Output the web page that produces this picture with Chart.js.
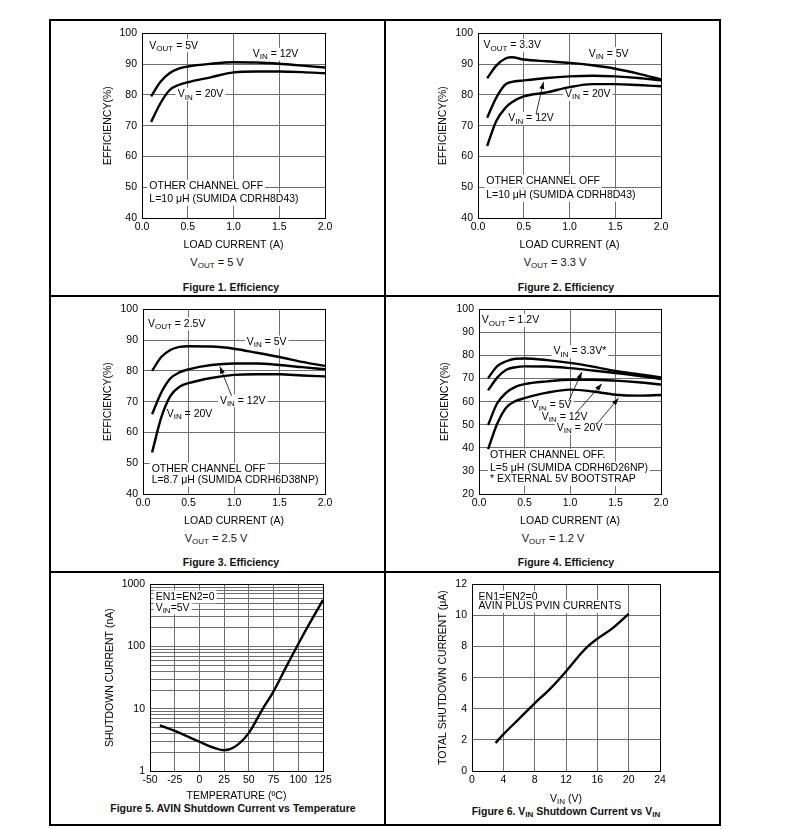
<!DOCTYPE html>
<html>
<head>
<meta charset="utf-8">
<script src="https://cdn.jsdelivr.net/npm/chart.js@4"></script>
<style>
  body { margin: 0; background: #fff; font-family: "Liberation Sans", Arial, sans-serif; }
  #page { position: relative; width: 793px; height: 829px; }
  canvas { position: absolute; }
  .rule { position: absolute; background: #000; }
  .cap { position: absolute; width: 300px; text-align: center; font-size: 11px; line-height: 14px; color: #111; }
  .fig { font-weight: bold; font-size: 10.5px; }
  sub { font-size: 8px; vertical-align: -2px; line-height: 0; }
</style>
</head>
<body>
<div id="page">
  <div class="rule" style="left:49px;top:19px;width:672px;height:2px"></div>
  <div class="rule" style="left:49px;top:295px;width:672px;height:2px"></div>
  <div class="rule" style="left:49px;top:571px;width:672px;height:2px"></div>
  <div class="rule" style="left:49px;top:824px;width:672px;height:2px"></div>
  <div class="rule" style="left:49px;top:19px;width:2px;height:807px"></div>
  <div class="rule" style="left:384px;top:19px;width:2px;height:807px"></div>
  <div class="rule" style="left:719px;top:19px;width:2px;height:807px"></div>

  <div class="cap" style="left:67px;top:255px">V<sub>OUT</sub> = 5 V</div>
  <div class="cap fig" style="left:81px;top:280px">Figure 1. Efficiency</div>
  <div class="cap" style="left:405px;top:255px">V<sub>OUT</sub> = 3.3 V</div>
  <div class="cap fig" style="left:416px;top:280px">Figure 2. Efficiency</div>
  <div class="cap" style="left:66px;top:531px">V<sub>OUT</sub> = 2.5 V</div>
  <div class="cap fig" style="left:81px;top:555px">Figure 3. Efficiency</div>
  <div class="cap" style="left:403px;top:531px">V<sub>OUT</sub> = 1.2 V</div>
  <div class="cap fig" style="left:416px;top:555px">Figure 4. Efficiency</div>
  <div class="cap fig" style="left:83px;top:801px">Figure 5. AVIN Shutdown Current vs Temperature</div>
  <div class="cap fig" style="left:416px;top:804px">Figure 6. V<sub>IN</sub> Shutdown Current vs V<sub>IN</sub></div>
</div>
<script>
const FONT = "'Liberation Sans', Arial, Helvetica, sans-serif";
const GRID = '#6e6e6e';
const NOTE_SIZE = 10.5;

// Figure 1, VOUT = 5 V
const loadA1 = [0.1, 0.2, 0.3, 0.4, 0.5, 0.75, 1.0, 1.25, 1.5, 1.75, 2.0];
const eff1Vin12 = [79.5, 84.2, 87.0, 88.5, 89.2, 90.1, 90.6, 90.5, 90.1, 89.5, 88.9];
const eff1Vin20 = [71.2, 77.2, 81.5, 83.2, 84.1, 85.7, 87.3, 87.6, 87.6, 87.4, 87.0];

// Figure 2, VOUT = 3.3 V
const loadA2 = [0.1, 0.2, 0.3, 0.37, 0.5, 0.75, 1.0, 1.25, 1.5, 1.75, 2.0];
const eff2Vin5 = [85.4, 89.5, 91.8, 92.2, 91.5, 90.9, 90.4, 89.6, 88.5, 86.9, 85.0];
const eff2Vin12 = [72.6, 79.1, 83.4, 84.2, 84.7, 85.5, 86.0, 86.2, 86.0, 85.5, 84.7];
const eff2Vin20 = [63.4, 71.5, 75.8, 77.6, 79.5, 80.8, 82.5, 83.5, 83.5, 83.2, 82.8];

// Figure 3, VOUT = 2.5 V
const loadA3 = [0.1, 0.2, 0.3, 0.4, 0.5, 0.75, 1.0, 1.25, 1.5, 1.75, 2.0];
const eff3Vin5 = [80.0, 84.5, 86.8, 87.8, 88.0, 87.9, 87.2, 85.9, 84.5, 82.9, 81.6];
const eff3Vin12 = [65.9, 72.9, 77.5, 79.5, 80.5, 81.9, 82.4, 82.4, 81.9, 81.2, 80.5];
const eff3Vin20 = [53.5, 64.8, 71.8, 74.8, 76.0, 77.7, 78.7, 78.9, 78.9, 78.5, 78.2];

// Figure 4, VOUT = 1.2 V
const loadA4 = [0.1, 0.2, 0.3, 0.4, 0.5, 0.75, 1.0, 1.25, 1.5, 1.75, 2.0];
const eff4Vin33 = [70.2, 75.4, 77.5, 78.6, 78.7, 78.0, 76.8, 75.2, 73.3, 71.9, 70.5];
const eff4Vin5 = [64.9, 70.4, 73.8, 74.9, 75.3, 75.2, 74.5, 73.5, 72.4, 71.2, 69.8];
const eff4Vin12 = [49.9, 59.3, 63.9, 66.4, 67.6, 68.8, 69.5, 69.5, 69.1, 68.4, 67.4];
const eff4Vin20 = [39.4, 50.4, 57.5, 60.2, 61.5, 63.9, 65.2, 64.4, 63.0, 62.6, 62.9];

// Figure 5, AVIN shutdown current vs temperature
const tempC = [-40, -25, 0, 15, 25, 35, 50, 64, 75, 88, 100, 113, 125];
const shutdownNA = [5.4, 4.4, 2.95, 2.35, 2.15, 2.4, 4.1, 10, 19, 48, 110, 260, 560];
const logDecades = [1, 10, 100, 1000];

// Figure 6, total shutdown current vs VIN
const vinV = [3, 4, 6, 8, 10, 12, 14, 15, 16, 18, 20];
const totalUA = [1.8, 2.35, 3.35, 4.35, 5.3, 6.4, 7.6, 8.1, 8.5, 9.2, 10.1];

const lineStyle = { borderColor: '#000', borderWidth: 2.4, pointRadius: 0, cubicInterpolationMode: 'monotone', fill: false };
function series(xs, ys) { return xs.map((x, i) => ({ x: x, y: ys[i] })); }

function parts(text) {
  const out = [];
  text.split(/(_\{[^}]*\})/).forEach(p => {
    if (!p) return;
    if (p.startsWith('_{')) out.push({ t: p.slice(2, -1), sub: true });
    else out.push({ t: p, sub: false });
  });
  return out;
}

function richWidth(ctx, segs, size) {
  let w = 0;
  segs.forEach(g => {
    ctx.font = (g.sub ? 8 : size) + 'px ' + FONT;
    g.w = ctx.measureText(g.t).width;
    w += g.w;
  });
  return w;
}

function drawRich(ctx, text, x, y, bg, size) {
  size = size || NOTE_SIZE;
  const segs = parts(text);
  const w = richWidth(ctx, segs, size);
  if (bg) {
    ctx.fillStyle = '#fff';
    ctx.fillRect(x - 2, y - 6.5, w + 4, 13);
  }
  ctx.fillStyle = '#000';
  ctx.textBaseline = 'middle';
  ctx.textAlign = 'left';
  segs.forEach(g => {
    ctx.font = (g.sub ? 8 : size) + 'px ' + FONT;
    ctx.fillText(g.t, x, g.sub ? y + 3 : y);
    x += g.w;
  });
}

// labels, arrows and the plot frame
const notesPlugin = {
  id: 'notes',
  beforeDatasetsDraw(chart, args, o) {
    const ctx = chart.ctx, xs = chart.scales.x, ys = chart.scales.y, ca = chart.chartArea;
    ctx.save();
    (o.labels || []).forEach(n => {
      drawRich(ctx, n.text, xs.getPixelForValue(n.x), ys.getPixelForValue(n.y), n.bg !== false);
    });
    (o.arrows || []).forEach(a => {
      const x0 = xs.getPixelForValue(a[0]), y0 = ys.getPixelForValue(a[1]);
      const x1 = xs.getPixelForValue(a[2]), y1 = ys.getPixelForValue(a[3]);
      const ang = Math.atan2(y1 - y0, x1 - x0);
      ctx.strokeStyle = '#000';
      ctx.lineWidth = 0.8;
      ctx.beginPath(); ctx.moveTo(x0, y0); ctx.lineTo(x1, y1); ctx.stroke();
      ctx.fillStyle = '#000';
      ctx.beginPath();
      ctx.moveTo(x1, y1);
      ctx.lineTo(x1 - 7 * Math.cos(ang) + 2.5 * Math.sin(ang), y1 - 7 * Math.sin(ang) - 2.5 * Math.cos(ang));
      ctx.lineTo(x1 - 7 * Math.cos(ang) - 2.5 * Math.sin(ang), y1 - 7 * Math.sin(ang) + 2.5 * Math.cos(ang));
      ctx.closePath(); ctx.fill();
    });
    if (o.xTitle) {
      const w = richWidth(ctx, parts(o.xTitle.text), 10.5);
      drawRich(ctx, o.xTitle.text, (ca.left + ca.right) / 2 - w / 2, ca.bottom + o.xTitle.dy, false, 10.5);
    }
    ctx.strokeStyle = '#000';
    ctx.lineWidth = 1;
    ctx.strokeRect(Math.round(ca.left) + 0.5, Math.round(ca.top) + 0.5, Math.round(ca.right) - Math.round(ca.left), Math.round(ca.bottom) - Math.round(ca.top));
    ctx.restore();
  }
};

function makeChart(cfg) {
  const b = cfg.box, p = cfg.plot, lh = 10.5 * 1.2;
  const cv = document.createElement('canvas');
  cv.width = b.W; cv.height = b.H;
  cv.style.left = b.L + 'px'; cv.style.top = b.T + 'px';
  document.getElementById('page').appendChild(cv);
  const tickFont = { family: FONT, size: 10.5 };

  const x = {
    type: 'linear', min: cfg.xMin, max: cfg.xMax,
    ticks: { stepSize: cfg.xStep, color: '#000', font: tickFont, padding: 3, maxRotation: 0, autoSkip: false, callback: cfg.xFmt },
    grid: { color: GRID, drawTicks: false },
    border: { color: '#000' },
    title: { display: !!cfg.xTitle, text: cfg.xTitle, color: '#000', font: tickFont, padding: { top: 0, bottom: b.T + b.H - cfg.xTitleY - lh / 2 } },
    afterFit: s => { s.height = b.T + b.H - p.b; }
  };
  const y = {
    type: cfg.yType || 'linear', min: cfg.yMin, max: cfg.yMax,
    ticks: { stepSize: cfg.yStep, color: '#000', font: tickFont, padding: 5, autoSkip: false, callback: cfg.yFmt },
    grid: { color: GRID, drawTicks: false },
    border: { color: '#000' },
    title: { display: true, text: cfg.yTitle, color: '#000', font: tickFont, padding: { top: cfg.yTitleX - b.L - lh / 2, bottom: 0 } },
    afterFit: s => { s.width = p.l - b.L; }
  };
  if (cfg.yTicks) y.afterBuildTicks = s => { s.ticks = cfg.yTicks.map(v => ({ value: v })); };

  return new Chart(cv, {
    type: 'line',
    data: { datasets: cfg.datasets.map(d => Object.assign({ data: d }, lineStyle)) },
    options: {
      responsive: false,
      animation: false,
      layout: { padding: { left: 0, top: p.t - b.T, right: b.L + b.W - p.r, bottom: 0 } },
      plugins: { legend: { display: false }, tooltip: { enabled: false }, notes: cfg.notes },
      scales: { x: x, y: y }
    },
    plugins: [notesPlugin]
  });
}

const fmt1 = v => v.toFixed(1);
const effCommon = { xMin: 0, xMax: 2, xStep: 0.5, xFmt: fmt1, yStep: 10, yMax: 100, xTitle: 'LOAD CURRENT (A)', yTitle: 'EFFICIENCY(%)' };

makeChart(Object.assign({}, effCommon, {
  box: { L: 52, T: 22, W: 330, H: 235 }, plot: { l: 142, t: 29, r: 325, b: 218 },
  yTitleX: 107.7, xTitleY: 245, yMin: 40,
  datasets: [series(loadA1, eff1Vin12), series(loadA1, eff1Vin20)],
  notes: {
    labels: [
      { text: 'V_{OUT} = 5V', x: 0.08, y: 96.0 },
      { text: 'V_{IN} = 12V', x: 1.21, y: 93.2 },
      { text: 'V_{IN} = 20V', x: 0.39, y: 80.1 },
      { text: 'OTHER CHANNEL OFF', x: 0.08, y: 50.3 },
      { text: 'L=10 μH (SUMIDA CDRH8D43)', x: 0.08, y: 46.1 }
    ]
  }
}));

makeChart(Object.assign({}, effCommon, {
  box: { L: 387, T: 22, W: 330, H: 235 }, plot: { l: 478, t: 29, r: 661, b: 218 },
  yTitleX: 442.7, xTitleY: 245, yMin: 40,
  datasets: [series(loadA2, eff2Vin5), series(loadA2, eff2Vin12), series(loadA2, eff2Vin20)],
  notes: {
    labels: [
      { text: 'V_{OUT} = 3.3V', x: 0.06, y: 96.1 },
      { text: 'V_{IN} = 5V', x: 1.21, y: 93.4 },
      { text: 'V_{IN} = 20V', x: 0.95, y: 80.2 },
      { text: 'V_{IN} = 12V', x: 0.33, y: 72.3 },
      { text: 'OTHER CHANNEL OFF', x: 0.09, y: 51.9 },
      { text: 'L=10 μH (SUMIDA CDRH8D43)', x: 0.09, y: 47.4 }
    ],
    arrows: [[0.635, 73.8, 0.715, 84.2]]
  }
}));

makeChart(Object.assign({}, effCommon, {
  box: { L: 52, T: 298, W: 330, H: 235 }, plot: { l: 143, t: 304, r: 325, b: 494 },
  yTitleX: 107.7, xTitleY: 521, yMin: 40,
  datasets: [series(loadA3, eff3Vin5), series(loadA3, eff3Vin12), series(loadA3, eff3Vin20)],
  notes: {
    labels: [
      { text: 'V_{OUT} = 2.5V', x: 0.055, y: 95.3 },
      { text: 'V_{IN} = 5V', x: 1.14, y: 89.4 },
      { text: 'V_{IN} = 12V', x: 0.845, y: 70.3 },
      { text: 'V_{IN} = 20V', x: 0.26, y: 66.1, bg: false },
      { text: 'OTHER CHANNEL OFF', x: 0.095, y: 48.0 },
      { text: 'L=8.7 μH (SUMIDA CDRH6D38NP)', x: 0.095, y: 44.5 }
    ],
    arrows: [[0.973, 71.9, 0.845, 81.4]]
  }
}));

makeChart(Object.assign({}, effCommon, {
  box: { L: 387, T: 298, W: 330, H: 235 }, plot: { l: 479, t: 304, r: 661, b: 494 },
  yTitleX: 445, xTitleY: 521, yMin: 20,
  datasets: [series(loadA4, eff4Vin33), series(loadA4, eff4Vin5), series(loadA4, eff4Vin12), series(loadA4, eff4Vin20)],
  notes: {
    labels: [
      { text: 'V_{OUT} = 1.2V', x: 0.03, y: 95.2 },
      { text: 'V_{IN} = 3.3V*', x: 0.82, y: 81.7 },
      { text: 'V_{IN} = 5V', x: 0.58, y: 58.3 },
      { text: 'V_{IN} = 12V', x: 0.69, y: 53.4 },
      { text: 'V_{IN} = 20V', x: 0.855, y: 48.5 },
      { text: 'OTHER CHANNEL OFF.', x: 0.12, y: 36.8 },
      { text: 'L=5 μH (SUMIDA CDRH6D26NP)', x: 0.12, y: 31.2 },
      { text: '* EXTERNAL 5V BOOTSTRAP', x: 0.12, y: 26.3 }
    ],
    arrows: [[0.983, 60.1, 1.13, 72.8], [1.075, 55.5, 1.35, 67.7], [1.295, 50.3, 1.533, 61.5]]
  }
}));

makeChart({
  box: { L: 52, T: 573, W: 330, H: 231 }, plot: { l: 150, t: 580, r: 323, b: 771 },
  yTitleX: 110, xTitleY: 796,
  xMin: -50, xMax: 125, xStep: 25, xFmt: v => String(v),
  yType: 'logarithmic', yMin: 1, yMax: 1000,
  yTicks: logDecades.flatMap(d => d === 1000 ? [1000] : [1, 2, 3, 4, 5, 6, 7, 8, 9].map(k => k * d)),
  yFmt: v => logDecades.includes(v) ? String(v) : '',
  xTitle: 'TEMPERATURE (ºC)', yTitle: 'SHUTDOWN CURRENT (nA)',
  datasets: [series(tempC, shutdownNA)],
  notes: {
    labels: [
      { text: 'EN1=EN2=0', x: -44.3, y: 631 },
      { text: 'V_{IN}=5V', x: -44.3, y: 420 }
    ]
  }
});

makeChart({
  box: { L: 387, T: 573, W: 330, H: 231 }, plot: { l: 472, t: 581, r: 660, b: 771 },
  yTitleX: 443, xTitleY: 799,
  xMin: 0, xMax: 24, xStep: 4, xFmt: v => String(v),
  yMin: 0, yMax: 12, yStep: 2, yFmt: v => String(v),
  xTitle: '', yTitle: 'TOTAL SHUTDOWN CURRENT (μA)',
  datasets: [series(vinV, totalUA)],
  notes: {
    labels: [
      { text: 'EN1=EN2=0', x: 0.84, y: 11.18 },
      { text: 'AVIN PLUS PVIN CURRENTS', x: 0.84, y: 10.59 }
    ],
    xTitle: { text: 'V_{IN} (V)', dy: 28 }
  }
});
</script>
</body>
</html>
